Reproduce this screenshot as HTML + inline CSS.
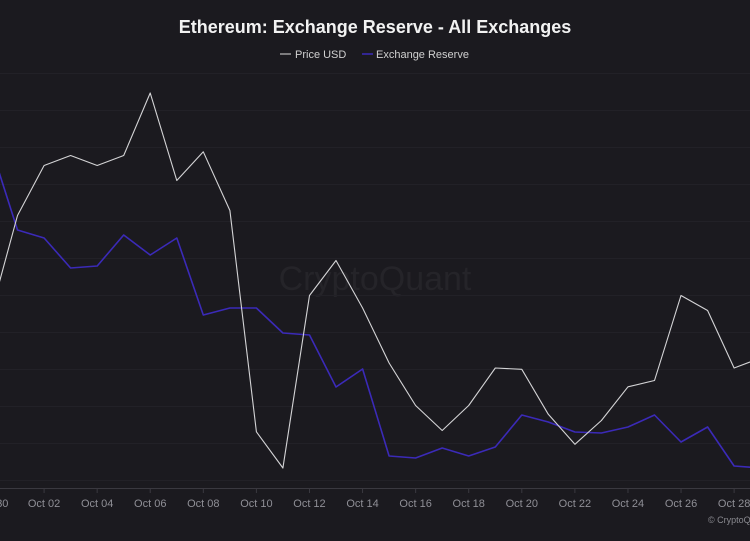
<!DOCTYPE html>
<html><head><meta charset="utf-8"><style>
html,body{margin:0;padding:0;background:#1b1a1f;}
body{width:750px;height:536px;overflow:hidden;font-family:"Liberation Sans",sans-serif;}
</style></head><body>
<svg width="750" height="536" viewBox="0 0 750 536">
<rect x="0" y="0" width="750" height="536" fill="#1b1a1f"/>
<text x="375" y="33" text-anchor="middle" fill="#f2f2f2" font-size="18" font-weight="bold">Ethereum: Exchange Reserve - All Exchanges</text>
<g>
<g><line x1="280" y1="54" x2="291" y2="54" stroke="#bdbdbd" stroke-width="1.2"/><text x="295" y="58" fill="#d0d0d0" font-size="11">Price USD</text></g>
<g><line x1="362" y1="54" x2="373" y2="54" stroke="#3b2ab8" stroke-width="1.5"/><text x="376" y="58" fill="#d0d0d0" font-size="11">Exchange Reserve</text></g>
</g>
<text x="375" y="290" text-anchor="middle" fill="#252429" font-size="34">CryptoQuant</text>
<g id="grid"></g>
<g id="xaxis"></g>
<g id="series"></g>
<text x="708" y="523" fill="#8a8a90" font-size="9">© CryptoQuant</text>
</svg>
<script>
const days = ["Sep 30","Oct 01","Oct 02","Oct 03","Oct 04","Oct 05","Oct 06","Oct 07","Oct 08","Oct 09","Oct 10","Oct 11","Oct 12","Oct 13","Oct 14","Oct 15","Oct 16","Oct 17","Oct 18","Oct 19","Oct 20","Oct 21","Oct 22","Oct 23","Oct 24","Oct 25","Oct 26","Oct 27","Oct 28","Oct 29"];
const tickLabels = ["Sep 30","Oct 02","Oct 04","Oct 06","Oct 08","Oct 10","Oct 12","Oct 14","Oct 16","Oct 18","Oct 20","Oct 22","Oct 24","Oct 26","Oct 28"];
const priceUSD = [2520,2598,2638,2646,2638,2646,2696,2626,2649,2602,2425,2396,2534,2562,2524,2480,2446,2426,2446,2476,2475,2439,2415,2434,2461,2466,2534,2522,2476,2484];
const reserveM = [20.205,19.790,19.750,19.600,19.610,19.765,19.665,19.750,19.365,19.400,19.400,19.275,19.265,19.005,19.095,18.660,18.650,18.700,18.660,18.705,18.865,18.830,18.780,18.775,18.805,18.865,18.730,18.805,18.610,18.600];
const NS="http://www.w3.org/2000/svg";
const xS = i => -9 + i*26.54;
const yP = v => 488 - (v-2380)/0.8;
const yR = v => 488 - (v-18.5)/0.005;
const grid=document.getElementById('grid');
for(let y=73;y<488;y+=37){
  const l=document.createElementNS(NS,'line');
  l.setAttribute('x1',0);l.setAttribute('x2',750);l.setAttribute('y1',y+0.5);l.setAttribute('y2',y+0.5);
  l.setAttribute('stroke','#222127');l.setAttribute('stroke-width','1');
  
  
  grid.appendChild(l);
}
const xa=document.getElementById('xaxis');
const ax=document.createElementNS(NS,'line');
ax.setAttribute('x1',0);ax.setAttribute('x2',750);ax.setAttribute('y1',488.5);ax.setAttribute('y2',488.5);
ax.setAttribute('stroke','#3a3940');


xa.appendChild(ax);
tickLabels.forEach((t,k)=>{
  const x=xS(k*2);
  const tk=document.createElementNS(NS,'line');
  tk.setAttribute('x1',x);tk.setAttribute('x2',x);tk.setAttribute('y1',488);tk.setAttribute('y2',493);
  tk.setAttribute('stroke','#3a3940');
  
  
  xa.appendChild(tk);
  const tx=document.createElementNS(NS,'text');
  tx.setAttribute('x',x);tx.setAttribute('y',507);tx.setAttribute('text-anchor','middle');
  tx.setAttribute('fill','#8f8f96');tx.setAttribute('font-size','11');
  tx.textContent=t;
  
  
  xa.appendChild(tx);
});
const ser=document.getElementById('series');
function line(vals,ys,color,w,name){
  const p=document.createElementNS(NS,'polyline');
  p.setAttribute('points',vals.map((v,i)=>xS(i).toFixed(1)+','+ys(v).toFixed(1)).join(' '));
  p.setAttribute('fill','none');p.setAttribute('stroke',color);p.setAttribute('stroke-width',w);
  p.setAttribute('stroke-linejoin','round');
  
  
  ser.appendChild(p);
}
line(reserveM,yR,'#3b2ab8',1.6,'exchange-reserve-line');
line(priceUSD,yP,'#d4d4d6',1.1,'price-usd-line');
</script>
</body></html>
